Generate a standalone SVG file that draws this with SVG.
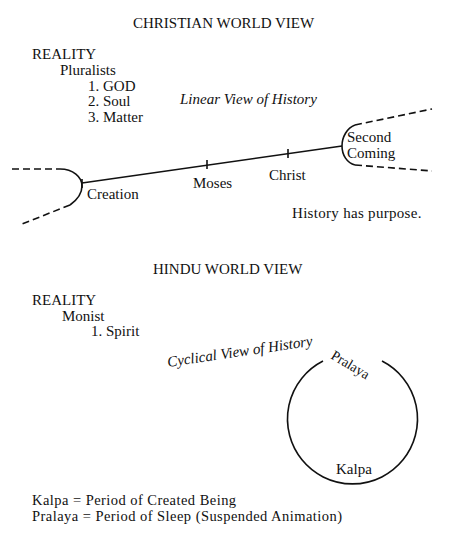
<svg xmlns="http://www.w3.org/2000/svg" width="450" height="541" viewBox="0 0 450 541">
<style>
text{font-family:'Liberation Serif','DejaVu Serif',serif;font-size:15px;fill:#111}
.it{font-style:italic}
.ln{fill:none;stroke:#111;stroke-width:1.6}
.ds{fill:none;stroke:#111;stroke-width:1.6;stroke-dasharray:7 4}
.lg{font-size:14.5px;letter-spacing:0.45px}
</style>
<rect width="450" height="541" fill="#fff"/>
<g id="christian-header">
<text x="133" y="28">CHRISTIAN WORLD VIEW</text>
<text x="32" y="59">REALITY</text>
<text x="60" y="75">Pluralists</text>
<text x="88" y="91">1. GOD</text>
<text x="88" y="106">2. Soul</text>
<text x="88" y="122">3. Matter</text>
<text class="it" x="180" y="104">Linear View of History</text>
</g>
<g id="connectors">
<path class="ln" d="M82,183 L342,146"/>
<path class="ln" d="M82,179 V188 M207,160 V169 M288,149 V158"/>
<path class="ln" d="M60,169 C73,169 82,177 82,186 C82,194 77,200 70,205"/>
<path class="ds" d="M12,169 H60 M70,205 L22,224"/>
<path class="ln" d="M355,125 C347,128 342,137 342,146 C342,155 347,163 355,165"/>
<path class="ds" d="M355,125 L432,109 M355,165 L432,171"/>
<path class="ln" d="M382,361 A65,65 0 1 1 323,361"/>
</g>
<g id="creation"><text x="87" y="199">Creation</text></g>
<g id="moses"><text x="193" y="188">Moses</text></g>
<g id="christ"><text x="269" y="180">Christ</text></g>
<g id="second-coming"><text x="347" y="142">Second</text><text x="347" y="158">Coming</text></g>
<g id="purpose"><text x="292" y="218" style="letter-spacing:0.3px">History has purpose.</text></g>
<g id="hindu-header">
<text x="153" y="274">HINDU WORLD VIEW</text>
<text x="32" y="305">REALITY</text>
<text x="62" y="321">Monist</text>
<text x="91" y="336">1. Spirit</text>
<text class="it" transform="translate(168,367) rotate(-8.4)">Cyclical View of History</text>
</g>
<g id="pralaya"><text transform="translate(330,358) rotate(31)" style="font-size:14px">Pralaya</text></g>
<g id="kalpa"><text x="336" y="474">Kalpa</text></g>
<g id="legend">
<text class="lg" x="32" y="505">Kalpa = Period of Created Being</text>
<text class="lg" x="32" y="521">Pralaya = Period of Sleep (Suspended Animation)</text>
</g>
</svg>
